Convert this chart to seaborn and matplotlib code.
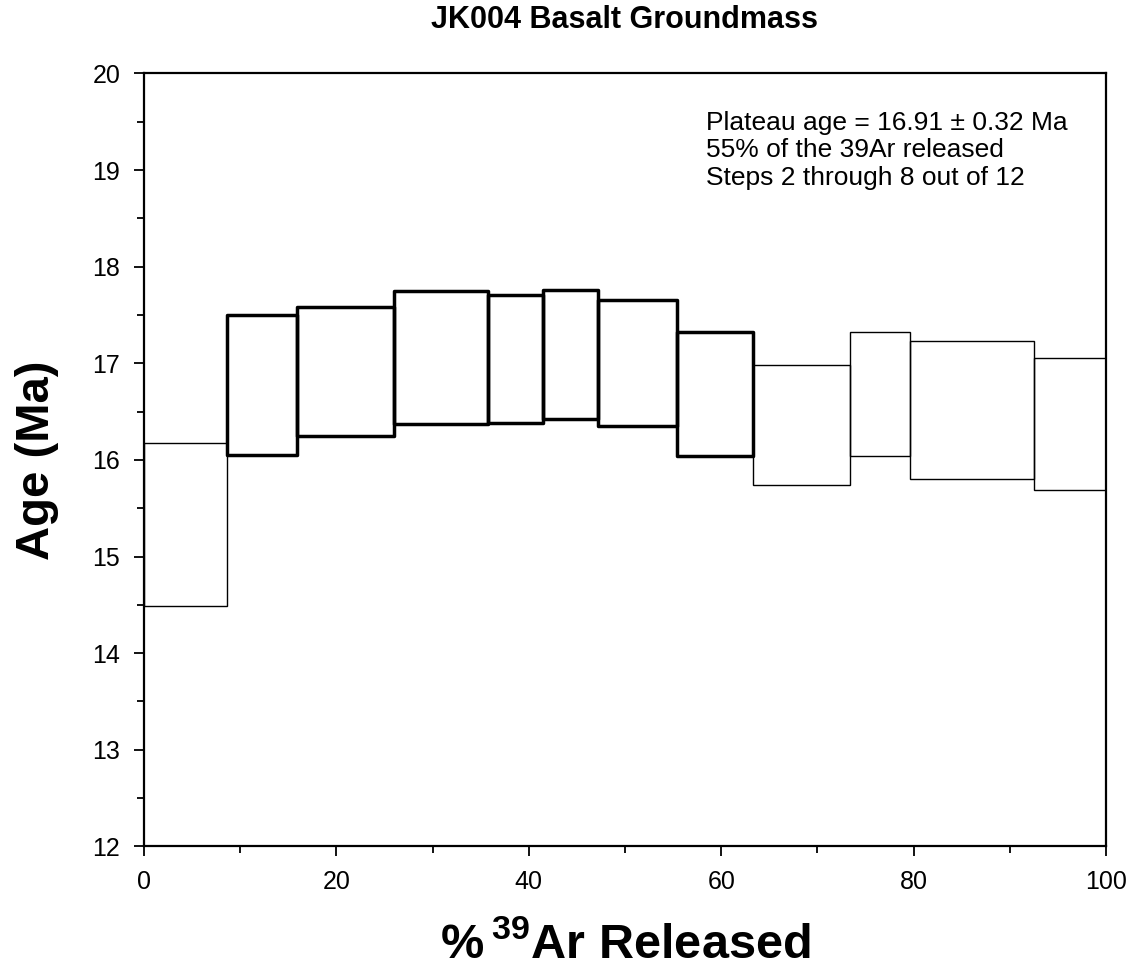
import matplotlib
matplotlib.use("Agg")
import matplotlib.pyplot as plt
import seaborn as sns
import numpy as np
import pandas as pd

# ---- data ----
step = list(range(1, 13))
cum_left = [0.0, 8.6, 15.9, 26.0, 35.8, 41.5, 47.2, 55.4, 63.3, 73.4, 79.6, 92.5]
cum_right = [8.6, 15.9, 26.0, 35.8, 41.5, 47.2, 55.4, 63.3, 73.4, 79.6, 92.5, 100.0]
age_low = [14.49, 16.05, 16.25, 16.37, 16.38, 16.42, 16.35, 16.04, 15.74, 16.04, 15.80, 15.69]
age_high = [16.18, 17.50, 17.58, 17.75, 17.71, 17.76, 17.66, 17.32, 16.98, 17.32, 17.23, 17.05]
plateau = [False, True, True, True, True, True, True, True, False, False, False, False]

title = "JK004 Basalt Groundmass"
note_lines = ["Plateau age = 16.91 \u00b1 0.32 Ma",
              "55% of the 39Ar released",
              "Steps 2 through 8 out of 12"]

df = pd.DataFrame({"step": step, "left": cum_left, "right": cum_right,
                   "low": age_low, "high": age_high, "plateau": plateau})
df["width"] = df["right"] - df["left"]
df["height"] = df["high"] - df["low"]

sns.set_theme(style="ticks")
plt.rcParams["font.family"] = ["Liberation Sans", "DejaVu Sans"]
plt.rcParams["text.color"] = "black"
plt.rcParams["axes.labelcolor"] = "black"
plt.rcParams["xtick.color"] = "black"
plt.rcParams["ytick.color"] = "black"
plt.rcParams["mathtext.fontset"] = "custom"
plt.rcParams["mathtext.rm"] = "Liberation Sans:bold"
plt.rcParams["mathtext.bf"] = "Liberation Sans:bold"
plt.rcParams["mathtext.default"] = "rm"

fig = plt.figure(figsize=(11.38, 9.68), dpi=100)
ax = fig.add_axes([0.1265, 0.1257, 0.9719 - 0.1265, 0.9241 - 0.1257])

thin = df[~df["plateau"]]
thick = df[df["plateau"]]
ax.bar(thin["left"], thin["height"], width=thin["width"], bottom=thin["low"],
       align="edge", fill=False, edgecolor="black", linewidth=1.0, zorder=2)
ax.bar(thick["left"], thick["height"], width=thick["width"], bottom=thick["low"],
       align="edge", fill=False, edgecolor="black", linewidth=2.5, zorder=3,
       joinstyle="round")

ax.set_xlim(0, 100)
ax.set_ylim(12, 20)
ax.set_xticks(np.arange(0, 101, 20))
ax.set_xticks(np.arange(0, 101, 10), minor=True)
ax.set_yticks(np.arange(12, 21, 1))
ax.set_yticks(np.arange(12, 20.01, 0.5), minor=True)
ax.tick_params(axis="both", which="major", direction="out", length=7, width=1.3,
               labelsize=18, color="black", labelcolor="black")
ax.tick_params(axis="both", which="minor", direction="out", length=5, width=1.3,
               color="black")
ax.tick_params(axis="x", which="major", pad=10)
ax.tick_params(axis="y", which="major", pad=10)
for s in ax.spines.values():
    s.set_linewidth(1.6)
    s.set_color("black")
    s.set_visible(True)

ax.set_title(title, fontsize=22, fontweight="bold", pad=33, color="black")
ax.set_ylabel("Age (Ma)", fontsize=34, fontweight="bold", labelpad=24, color="black")
ax.set_xlabel(r"%$\,^{39}$Ar Released", fontsize=35, fontweight="bold", labelpad=20,
              color="black")

ax.text(0.584, 0.952, "\n".join(note_lines), transform=ax.transAxes,
        fontsize=19, va="top", ha="left", linespacing=1.2, color="black")

fig.savefig("out.png", dpi=100)
